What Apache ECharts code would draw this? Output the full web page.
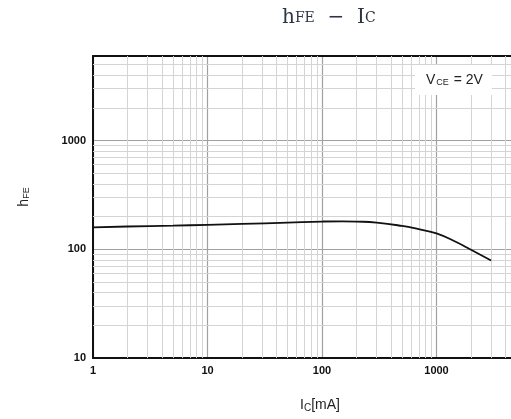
<!DOCTYPE html>
<html>
<head>
<meta charset="utf-8">
<script src="https://cdn.jsdelivr.net/npm/echarts@6/dist/echarts.min.js"></script>
<style>
html,body{margin:0;padding:0;background:#fff;}
#chart{width:511px;height:419px;}
</style>
</head>
<body>
<div id="chart"></div>
<script>
// Collector current Ic [mA]
const icValues = [1, 2, 5, 10, 20, 50, 100, 150, 200, 300, 500, 700, 1000, 1500, 2000, 3000];
// DC current gain hFE at VCE = 2V
const hfeValues = [159, 162, 165, 168, 171, 176, 180, 181, 180, 176, 164, 153, 140, 116, 99, 79];
// minor grid line positions
const xMinorLines = [2,3,4,5,6,7,8,9,20,30,40,50,60,70,80,90,200,300,400,500,600,700,800,900,2000,3000,4000,5000,6000,7000,8000,9000];
const yMinorLines = [20,30,40,50,60,70,80,90,200,300,400,500,600,700,800,900,2000,3000,4000,5000];

const chart = echarts.init(document.getElementById('chart'));
const labelFont = {color:'#111', fontWeight:'bold', fontSize:11, fontFamily:'Liberation Sans, Arial, sans-serif'};
const minorStyle = {color:'#d4d4d4', width:1, type:'solid'};
const powFmt = function(v){
  const l = Math.log10(v); return Math.abs(l-Math.round(l))<1e-6 ? String(Math.round(v)) : '';
};

chart.setOption({
  animation:false,
  backgroundColor:'#fff',
  title:[{
    text:'{a|h}{b|FE}{a|  −  I}{b|C}',
    left:277, top:3,
    textStyle:{
      fontWeight:'normal',
      rich:{
        a:{fontFamily:'DejaVu Serif, Liberation Serif, serif', fontSize:20, fontWeight:'normal', color:'#2b3442'},
        b:{fontFamily:'DejaVu Serif, Liberation Serif, serif', fontSize:14, fontWeight:'normal', color:'#2b3442'}
      }
    }
  },{
    text:'{a|V}{b|CE}{a| = 2V}',
    left:415, top:65,
    backgroundColor:'#fff',
    padding:[8,9,8,11],
    textStyle:{
      fontWeight:'normal',
      rich:{
        a:{fontFamily:'Liberation Sans, Arial, sans-serif', fontSize:14, fontWeight:'normal', color:'#222'},
        b:{fontFamily:'Liberation Sans, Arial, sans-serif', fontSize:9, fontWeight:'normal', color:'#222', verticalAlign:'bottom', padding:[4,1,0,1]}
      }
    },
    z:10
  }],
  grid:{left:93, right:-40, top:56, bottom:61, containLabel:false, outerBoundsMode:'none'},
  xAxis:[{
    type:'log', logBase:10, min:1, max:10000,
    name:'{a|I}{b|C}{a|[mA]}',
    nameLocation:'middle', nameGap:40,
    nameTextStyle:{padding:[0,4,0,0], rich:{
      a:{fontFamily:'Liberation Sans, Arial, sans-serif', fontSize:14, color:'#222'},
      b:{fontFamily:'Liberation Sans, Arial, sans-serif', fontSize:10, color:'#222', verticalAlign:'bottom', padding:[5,0,0,0]}
    }},
    axisLine:{show:true, onZero:false, lineStyle:{color:'#111', width:2}},
    axisTick:{show:false},
    axisLabel:Object.assign({margin:7, formatter:powFmt}, labelFont),
    splitLine:{show:true, lineStyle:{color:'#a0a0a0', width:1.2}},
    minorTick:{show:false}, minorSplitLine:{show:false}
  },{
    type:'value', position:'top', min:0, max:1,
    axisLine:{show:true, lineStyle:{color:'#111', width:2}},
    axisTick:{show:false}, axisLabel:{show:false}, splitLine:{show:false}
  }],
  yAxis:{
    type:'log', logBase:10, min:10, max:6000,
    name:'{a|h}{b|FE}',
    nameLocation:'middle', nameGap:62, nameRotate:90,
    nameTextStyle:{padding:[0,0,0,20], rich:{
      a:{fontFamily:'Liberation Sans, Arial, sans-serif', fontSize:14, color:'#222'},
      b:{fontFamily:'Liberation Sans, Arial, sans-serif', fontSize:9, color:'#222', verticalAlign:'bottom', padding:[5,0,0,0]}
    }},
    axisLine:{show:true, onZero:false, lineStyle:{color:'#111', width:2}},
    axisTick:{show:false},
    axisLabel:Object.assign({margin:7, showMaxLabel:false, formatter:powFmt}, labelFont),
    splitLine:{show:true, lineStyle:{color:'#a0a0a0', width:1.2}},
    minorTick:{show:false}, minorSplitLine:{show:false}
  },
  series:[{
    type:'line',
    data:icValues.map((x,i)=>[x, hfeValues[i]]),
    smooth:0.5,
    showSymbol:false,
    lineStyle:{color:'#111', width:1.8},
    z:5,
    markLine:{
      silent:true, symbol:'none', label:{show:false},
      lineStyle:minorStyle, z:1,
      animation:false,
      data:xMinorLines.map(v=>({xAxis:v})).concat(yMinorLines.map(v=>({yAxis:v})))
    }
  }]
});
</script>
</body>
</html>
